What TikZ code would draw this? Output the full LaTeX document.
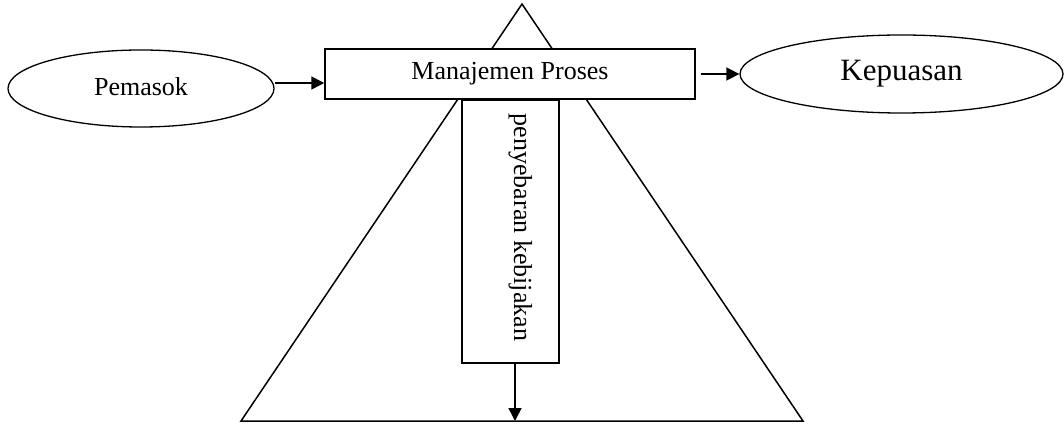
\documentclass[tikz,border=0pt]{standalone}
\usepackage{fontspec}
\setmainfont{Liberation Serif}
\usetikzlibrary{arrows.meta,shapes.geometric}
\begin{document}
\begin{tikzpicture}[x=1pt,y=1pt,
  line/.style={line width=1.5pt},
  arr/.style={line width=1.6pt,-{Triangle[length=13pt,width=13pt]}},
  oval/.style={ellipse,draw,line width=1.3pt,inner sep=0pt,fill=white},
  boxn/.style={rectangle,draw,line width=1.5pt,inner sep=0pt,fill=white},
  lbl/.style={font=\fontsize{26}{30}\selectfont}]
\useasboundingbox (0,0) rectangle (1064,423);
% triangle
\coordinate (apex) at (522,419);
\coordinate (bl) at (241,2);
\coordinate (br) at (803,2);
\draw[line,line join=miter] (apex) -- (bl) -- (br) -- cycle;
% nodes
\node[oval,minimum width=266pt,minimum height=77pt] (pem) at (141,334.5) {};
\node[lbl] (pemt) at (141,336) {Pemasok};
\node[oval,minimum width=323pt,minimum height=78pt,font=\fontsize{31}{36}\selectfont] (kep) at (901.5,349) {Kepuasan};
\node[boxn,minimum width=370pt,minimum height=50pt,lbl] (mp) at (510,349) {Manajemen Proses};
\node[boxn,minimum width=97pt,minimum height=263pt] (vb) at (510.5,191.5) {};
\node[lbl,rotate=-90,anchor=base,inner sep=0pt] (vt) at (514,195.5) {penyebaran kebijakan};
% connectors
\draw[arr] (pem.east |- 0,340) -- (mp.west |- 0,340);
\draw[arr,shorten <=5pt] (mp.east) -- (kep.west);
\coordinate (vbot) at ([xshift=4.5pt]vb.south);
\draw[arr] (vbot) -- (vbot |- bl);
\end{tikzpicture}
\end{document}
